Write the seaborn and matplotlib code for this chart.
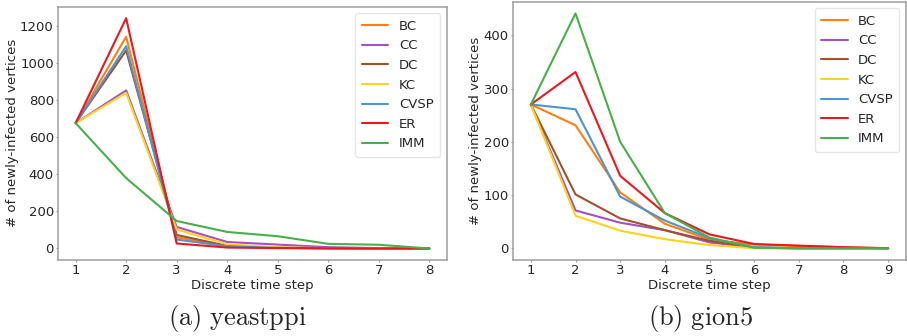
import numpy as np
import pandas as pd
import matplotlib
matplotlib.use("Agg")
import matplotlib.pyplot as plt
import seaborn as sns

methods = ["BC", "CC", "DC", "KC", "CVSP", "ER", "IMM"]
colors = ["#ff7f0e", "#a352c2", "#a0522d", "#ffd21f", "#4f93d0", "#e8191f", "#47b04a"]

steps_a = [1, 2, 3, 4, 5, 6, 7, 8]
yeast_BC = [675, 1140, 60, 14, 4, 1, 0, 0]
yeast_CC = [675, 851, 116, 35, 21, 7, 2, 0]
yeast_DC = [675, 1066, 73, 14, 4, 1, 0, 0]
yeast_KC = [675, 838, 102, 23, 6, 2, 0, 0]
yeast_CVSP = [675, 1089, 48, 12, 3, 1, 0, 0]
yeast_ER = [675, 1240, 27, 5, 2, 1, 0, 0]
yeast_IMM = [675, 379, 148, 89, 66, 25, 20, 0]

steps_b = [1, 2, 3, 4, 5, 6, 7, 8, 9]
gion_BC = [270, 231, 105, 46, 16, 7, 4, 2, 0]
gion_CC = [270, 71, 48, 34, 11, 1, 0, 0, 0]
gion_DC = [270, 101, 56, 34, 14, 1, 0, 0, 0]
gion_KC = [270, 61, 33, 17, 6, 0, 0, 0, 0]
gion_CVSP = [270, 261, 97, 52, 19, 2, 0, 0, 0]
gion_ER = [270, 331, 136, 66, 26, 8, 5, 2, 0]
gion_IMM = [270, 441, 200, 66, 20, 1, 0, 0, 0]

def long_df(steps, series):
    rows = []
    for m, vals in zip(methods, series):
        for s, v in zip(steps, vals):
            rows.append({"step": s, "value": v, "method": m})
    return pd.DataFrame(rows)

df_a = long_df(steps_a, [yeast_BC, yeast_CC, yeast_DC, yeast_KC, yeast_CVSP, yeast_ER, yeast_IMM])
df_b = long_df(steps_b, [gion_BC, gion_CC, gion_DC, gion_KC, gion_CVSP, gion_ER, gion_IMM])

sns.set_style("ticks")
plt.rcParams["font.family"] = ["DejaVu Sans"]
plt.rcParams["mathtext.fontset"] = "cm"

fig = plt.figure(figsize=(9.07, 3.36), dpi=100)
ax1 = fig.add_axes([0.0639, 0.2262, 0.4289, 0.754])
ax2 = fig.add_axes([0.5656, 0.2262, 0.4333, 0.7688])

fs = 9.5
for ax, df, steps, yt, cap, cx in [
    (ax1, df_a, steps_a, [0, 200, 400, 600, 800, 1000, 1200], r"$\mathrm{(a)\ yeastppi}$", 237 / 907),
    (ax2, df_b, steps_b, [0, 100, 200, 300, 400], r"$\mathrm{(b)\ gion5}$", 701 / 907),
]:
    sns.lineplot(data=df, x="step", y="value", hue="method", hue_order=methods,
                 palette=colors, linewidth=1.5, ax=ax)
    ax.set_xticks(steps)
    ax.set_yticks(yt)
    ax.tick_params(labelsize=fs, length=1.5, width=0.8, pad=1.5, color="0.6")
    ax.set_xlabel("Discrete time step", fontsize=fs, labelpad=1)
    ax.set_ylabel("# of newly-infected vertices", fontsize=fs, labelpad=1)
    for sp in ax.spines.values():
        sp.set_visible(True)
        sp.set_color("0.62")
        sp.set_linewidth(1.1)
    leg = ax.legend(loc="upper right", fontsize=fs, frameon=True, handlelength=2.0,
                    labelspacing=0.5, borderpad=0.5, handletextpad=0.8)
    leg.get_frame().set_edgecolor("0.88")
    for line in leg.get_lines():
        line.set_linewidth(1.5)
    fig.text(cx, 0.052, cap, ha="center", va="center", fontsize=19)

fig.savefig("out.png", dpi=100)
